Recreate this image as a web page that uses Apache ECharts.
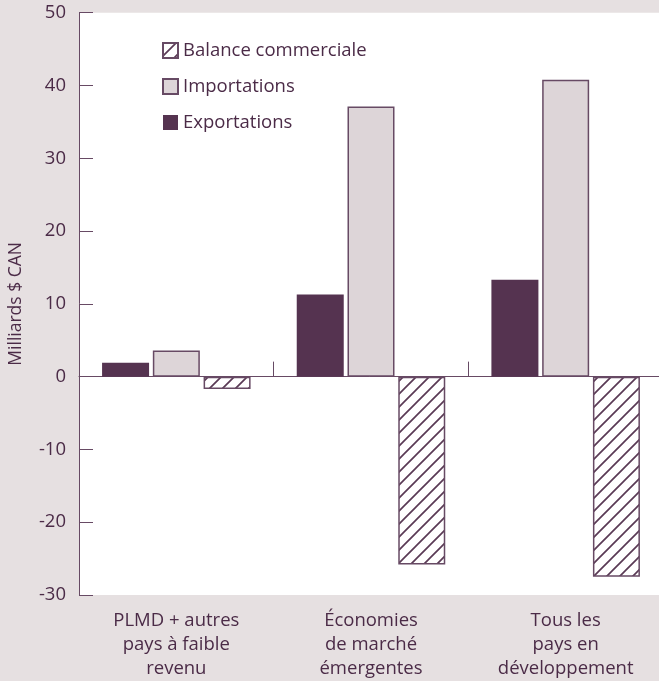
<!DOCTYPE html>
<html>
<head>
<meta charset="utf-8">
<script src="https://cdn.jsdelivr.net/npm/echarts@6/dist/echarts.min.js"></script>
<style>
html,body{margin:0;padding:0;background:#e6e0e1;}
#chart{width:659px;height:681px;}
</style>
</head>
<body>
<div id="chart"></div>
<script>
const categories = ['PLMD + autres\npays à faible\nrevenu', 'Économies\nde marché\némergentes', 'Tous les\npays en\ndéveloppement'];
const exportations = [1.9, 11.3, 13.3];
const importations = [3.6, 37.1, 40.8];
const balance = [-1.7, -25.8, -27.5];
const yTicks = {min: -30, max: 50, interval: 10};

const DARK = '#553350';
const LINE = '#674a64';
const LIGHT = '#ddd5d8';
const TEXT = '#4b2b47';
const FONT = 'Open Sans';
const FS = 18.5;

function hatch() {
  const s = 13;
  const c = document.createElement('canvas');
  c.width = s; c.height = s;
  const g = c.getContext('2d');
  g.fillStyle = '#ffffff';
  g.fillRect(0, 0, s, s);
  g.strokeStyle = '#5a3a55';
  g.lineWidth = 1.7;
  g.beginPath();
  g.moveTo(0, s); g.lineTo(s, 0);
  g.moveTo(-s / 2, s / 2); g.lineTo(s / 2, -s / 2);
  g.moveTo(s / 2, s * 1.5); g.lineTo(s * 1.5, s / 2);
  g.stroke();
  return c;
}

const chart = echarts.init(document.getElementById('chart'));
chart.setOption({
  backgroundColor: '#e6e0e1',
  animation: false,
  textStyle: {fontFamily: FONT, color: TEXT},
  grid: {left: 79, top: 12.7, right: -4, bottom: 86, show: true, backgroundColor: '#ffffff', borderWidth: 0,
         containLabel: false, outerBoundsMode: 'none'},
  legend: {
    orient: 'vertical', left: 162, top: 41, padding: 0, itemWidth: 15, itemHeight: 15, itemGap: 17, icon: 'rect',
    data: ['Balance commerciale', 'Importations', 'Exportations'],
    textStyle: {fontFamily: FONT, fontSize: FS, color: TEXT}
  },
  xAxis: [{
    type: 'category', data: categories, position: 'bottom',
    axisLine: {onZero: true, lineStyle: {color: LINE, width: 1}},
    axisTick: {show: true, inside: true, length: 15, lineStyle: {color: LINE}},
    axisLabel: {show: false}
  }, {
    type: 'category', data: categories, position: 'bottom',
    axisLine: {show: false, onZero: false},
    axisTick: {show: false},
    axisLabel: {fontFamily: FONT, fontSize: FS, color: TEXT, lineHeight: 24, margin: 14}
  }],
  yAxis: {
    type: 'value', min: yTicks.min, max: yTicks.max, interval: yTicks.interval,
    name: 'Milliards $ CAN', nameLocation: 'middle', nameGap: 54,
    nameTextStyle: {fontFamily: FONT, fontSize: 17.5, color: TEXT},
    axisLine: {show: true, lineStyle: {color: LINE, width: 1}},
    axisTick: {show: true, inside: true, length: 14, lineStyle: {color: LINE}},
    axisLabel: {fontFamily: FONT, fontSize: FS, color: TEXT, margin: 13},
    splitLine: {show: false}
  },
  series: [{
    name: 'Exportations', type: 'bar', data: exportations, barWidth: 47, barGap: '8%',
    itemStyle: {color: DARK, borderColor: DARK, borderWidth: 0}
  }, {
    name: 'Importations', type: 'bar', data: importations, barWidth: 47, barGap: '8%',
    itemStyle: {color: LIGHT, borderColor: LINE, borderWidth: 1.5}
  }, {
    name: 'Balance commerciale', type: 'bar', data: balance, barWidth: 47, barGap: '8%',
    itemStyle: {color: {image: hatch(), repeat: 'repeat'}, borderColor: LINE, borderWidth: 1.5}
  }]
});
</script>
</body>
</html>
